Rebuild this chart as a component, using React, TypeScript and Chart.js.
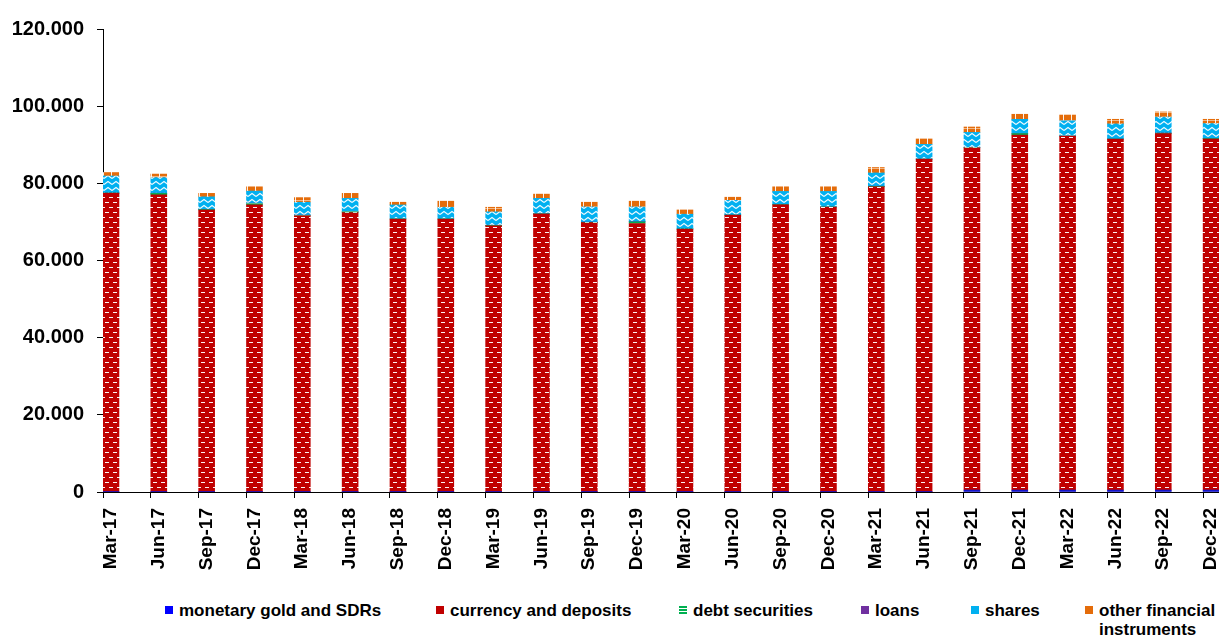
import React, { useEffect, useRef } from "react";
import { Chart, registerables } from "chart.js";

Chart.register(...registerables);

const categories = [
  "Mar-17", "Jun-17", "Sep-17", "Dec-17",
  "Mar-18", "Jun-18", "Sep-18", "Dec-18",
  "Mar-19", "Jun-19", "Sep-19", "Dec-19",
  "Mar-20", "Jun-20", "Sep-20", "Dec-20",
  "Mar-21", "Jun-21", "Sep-21", "Dec-21",
  "Mar-22", "Jun-22", "Sep-22", "Dec-22",
];

const monetaryGold = [
  50, 50, 50, 50, 50, 50, 50, 50, 50, 50, 50, 50,
  50, 50, 50, 50, 50, 50, 500, 500, 500, 500, 500, 500,
];

const currencyDeposits = [
  77350, 76950, 73050, 74350, 71550, 72350, 70650, 70650,
  68950, 71950, 69750, 69550, 68050, 71650, 74350, 73750,
  79050, 86150, 88700, 92000, 91700, 90900, 92400, 91000,
];

const debtSecurities = [
  100, 400, 100, 400, 100, 300, 100, 100, 100, 100, 100, 400,
  100, 100, 100, 100, 100, 100, 100, 400, 100, 100, 100, 100,
];

const loans = [
  50, 50, 50, 50, 50, 50, 50, 50, 50, 50, 50, 50,
  50, 50, 50, 50, 50, 50, 50, 50, 50, 50, 50, 50,
];

const shares = [
  4350, 4050, 3250, 3150, 3350, 3350, 3550, 2950,
  3450, 3950, 3950, 3850, 3750, 3750, 3350, 3950,
  3450, 3750, 3850, 3650, 3850, 3850, 4150, 3850,
];

const otherInstruments = [
  900, 900, 900, 1100, 1200, 1300, 700, 1600,
  1200, 1100, 1200, 1500, 1100, 800, 1200, 1200,
  1400, 1400, 1400, 1300, 1500, 1200, 1300, 1100,
];

const yTicks = [0, 20000, 40000, 60000, 80000, 100000, 120000];

const FONT = "'Liberation Sans', Arial, sans-serif";

function makePattern(
  ctx: CanvasRenderingContext2D,
  w: number,
  h: number,
  bg: string,
  draw: (c: CanvasRenderingContext2D) => void
) {
  const tile = document.createElement("canvas");
  tile.width = w;
  tile.height = h;
  const t = tile.getContext("2d")!;
  t.fillStyle = bg;
  t.fillRect(0, 0, w, h);
  draw(t);
  return ctx.createPattern(tile, "repeat") as CanvasPattern;
}

export default function App() {
  const canvasRef = useRef<HTMLCanvasElement | null>(null);

  useEffect(() => {
    const canvas = canvasRef.current!;
    const ctx = canvas.getContext("2d")!;

    const redPat = makePattern(ctx, 8, 10, "#C00000", (t) => {
      t.fillStyle = "rgba(255,255,255,0.95)";
      t.fillRect(1, 2, 4, 1);
      t.fillRect(5, 7, 3, 1);
      t.fillRect(0, 7, 1, 1);
    });
    const cyanPat = makePattern(ctx, 8, 6, "#00B0F0", (t) => {
      t.strokeStyle = "rgba(255,255,255,0.95)";
      t.lineWidth = 1.1;
      t.beginPath();
      t.moveTo(0, 4.5);
      t.lineTo(4, 1.5);
      t.lineTo(8, 4.5);
      t.stroke();
    });
    const orangePat = makePattern(ctx, 8, 8, "#E46C0A", (t) => {
      t.fillStyle = "rgba(255,255,255,0.9)";
      t.fillRect(7, 0, 1, 8);
      t.fillStyle = "rgba(255,255,255,0.5)";
      t.fillRect(0, 0, 8, 1);
    });
    const greenPat = makePattern(ctx, 4, 4, "#00B050", (t) => {
      t.fillStyle = "rgba(255,255,255,0.3)";
      t.fillRect(0, 3, 4, 1);
    });
    const purplePat = makePattern(ctx, 4, 4, "#7030A0", (t) => {
      t.fillStyle = "rgba(255,255,255,0.5)";
      t.fillRect(0, 0, 1, 1);
    });

    const common = {
      stack: "s",
      borderWidth: 0,
      barPercentage: 1,
      categoryPercentage: 1,
    };

    const chart = new Chart(canvas, {
      type: "bar",
      data: {
        labels: categories,
        datasets: [
          { ...common, label: "monetary gold and SDRs", data: monetaryGold, backgroundColor: "#1414C8" },
          { ...common, label: "currency and deposits", data: currencyDeposits, backgroundColor: redPat },
          { ...common, label: "debt securities", data: debtSecurities, backgroundColor: greenPat },
          { ...common, label: "loans", data: loans, backgroundColor: purplePat },
          { ...common, label: "shares", data: shares, backgroundColor: cyanPat },
          { ...common, label: "other financial instruments", data: otherInstruments, backgroundColor: orangePat },
          { label: "_gap1", stack: "g1", data: categories.map(() => null), barPercentage: 1, categoryPercentage: 1 },
          { label: "_gap2", stack: "g2", data: categories.map(() => null), barPercentage: 1, categoryPercentage: 1 },
        ],
      },
      options: {
        responsive: false,
        animation: false,
        devicePixelRatio: 1,
        layout: { padding: { top: 29, right: 7, bottom: 0, left: 0 } },
        plugins: {
          legend: { display: false },
          tooltip: { enabled: false },
          title: { display: false },
        },
        scales: {
          x: {
            type: "category",
            stacked: true,
            offset: true,
            grid: {
              display: true,
              offset: true,
              drawOnChartArea: false,
              drawTicks: true,
              tickLength: 6,
              tickColor: "#000",
              color: "#000",
              lineWidth: 1,
            },
            border: { display: true, color: "#000", width: 1 },
            ticks: {
              autoSkip: false,
              minRotation: 90,
              maxRotation: 90,
              padding: 10,
              labelOffset: -16,
              color: "#000",
              font: { family: FONT, size: 19, weight: "bold" },
            },
            afterFit: (s: any) => {
              s.height = 570 - 492;
            },
          },
          y: {
            stacked: true,
            min: 0,
            max: 120000,
            afterBuildTicks: (s: any) => {
              s.ticks = yTicks.map((v) => ({ value: v }));
            },
            grid: {
              display: true,
              drawOnChartArea: false,
              drawTicks: true,
              tickLength: 6,
              tickColor: "#000",
            },
            border: { display: true, color: "#000", width: 1 },
            ticks: {
              padding: 13,
              color: "#000",
              font: { family: FONT, size: 20, weight: "bold" },
              callback: (v: any) => {
                const n = Number(v);
                if (n === 0) return "0";
                return String(Math.round(n / 1000)) + ".000";
              },
            },
            afterFit: (s: any) => {
              s.width = 103;
            },
          },
        },
      },
    });

    return () => chart.destroy();
  }, []);

  const legendItems = [
    { left: 165, text: "monetary gold and SDRs", bg: "#0000FF" },
    { left: 436, text: "currency and deposits", bg: "#C00000" },
    { left: 679, text: "debt securities", bg: "repeating-linear-gradient(180deg,#00B050 0 2px,#fff 2px 3px)" },
    { left: 861, text: "loans", bg: "#7030A0" },
    { left: 971, text: "shares", bg: "#00B0F0" },
    { left: 1085, text: "other financial instruments", bg: "#E46C0A", width: 124 },
  ];

  return (
    <div
      style={{
        position: "fixed",
        left: 0,
        top: 0,
        width: 1219,
        height: 637,
        overflow: "hidden",
        background: "#fff",
      }}
    >
      <div style={{ position: "absolute", left: 0, top: 0, width: 1260, height: 570 }}>
        <canvas ref={canvasRef} width={1260} height={570} style={{ display: "block" }} />
      </div>
      {legendItems.map((it) => (
        <div
          key={it.text}
          style={{
            position: "absolute",
            left: it.left,
            top: 601,
            display: "flex",
            alignItems: "flex-start",
            fontFamily: FONT,
            fontWeight: "bold",
            fontSize: 17,
            lineHeight: "19px",
            color: "#000",
            whiteSpace: it.width ? "normal" : "nowrap",
          }}
        >
          <span
            style={{
              display: "inline-block",
              width: 8,
              height: 8,
              marginTop: 5,
              marginRight: 6,
              background: it.bg,
              flex: "0 0 auto",
            }}
          />
          <span style={{ width: it.width, display: "inline-block" }}>{it.text}</span>
        </div>
      ))}
    </div>
  );
}
